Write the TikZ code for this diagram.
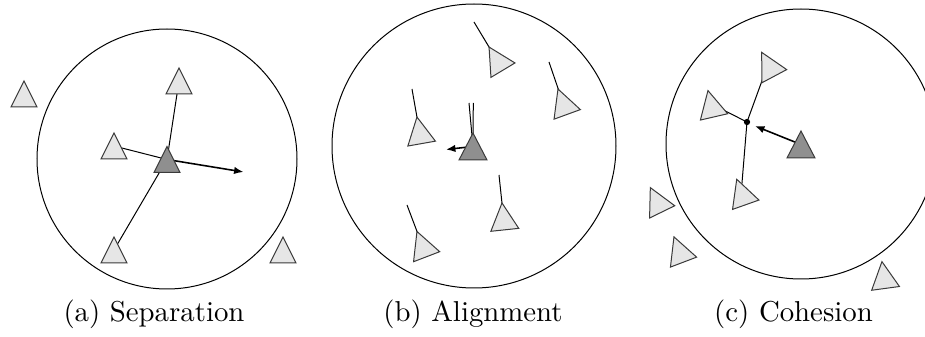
\documentclass[tikz,border=0pt]{standalone}
\usetikzlibrary{arrows.meta}
\definecolor{boidlight}{HTML}{E6E6E6}
\definecolor{boiddark}{HTML}{8F8F8F}
\definecolor{boidedge}{HTML}{3A3A3A}
\begin{document}
\begin{tikzpicture}[x=0.35pt,y=-0.35pt,
  ring/.style={draw=black, line width=0.35pt},
  link/.style={draw=black, line width=0.35pt},
  steer/.style={draw=black, line width=0.55pt, -{Latex[length=3.3pt,width=2.6pt]}},
  boidshape/.style={draw=boidedge, line width=0.35pt, line join=miter},
  caption/.style={anchor=base, inner sep=0pt, font=\fontsize{10.08pt}{12pt}\selectfont},
  pics/boid/.style={code={\path[boidshape,fill=#1] (0,-\boidh)--(-\boidw,\boidh)--(\boidw,\boidh)--cycle;}}
]
\clip (0,0) rectangle (925,337);

% ---------------- (a) Separation ----------------
\begin{scope}
\def\boidw{13}\def\boidh{13}
\node[ring, circle, minimum size=260*0.35pt, inner sep=0pt] (ringA) at (167,159) {};
\coordinate (aOutL) at (24,94);
\coordinate (aTop) at (179,81);
\coordinate (aMid) at (114,146);
\coordinate (aDark) at (167,159.5);
\coordinate (aBot) at (114,250);
\coordinate (aOutR) at (283,250);
\coordinate (aGoal) at (243.5,172);
\draw[link] (aTop) -- (aDark);
\draw[link] (aMid) -- (aDark);
\draw[link] (aBot) -- (aDark);
\draw[steer] (aDark) -- (aGoal);
\pic at (aOutL) {boid=boidlight};
\pic at (aTop) {boid=boidlight};
\pic at (aMid) {boid=boidlight};
\pic at (aBot) {boid=boidlight};
\pic at (aOutR) {boid=boidlight};
\pic at (aDark) {boid=boiddark};
\node[caption] (capA) at (154,322) {(a) Separation};
\end{scope}

% ---------------- (b) Alignment ----------------
\begin{scope}
\def\boidw{14}\def\boidh{13.5}
\node[ring, circle, minimum size=284*0.35pt, inner sep=0pt] (ringB) at (474,146) {};
\coordinate (b1) at (496,58.6);   \coordinate (b1t) at (474,22);
\coordinate (b2) at (562.6,101.7);\coordinate (b2t) at (549,62);
\coordinate (b3) at (419.3,130.3);\coordinate (b3t) at (412,89);
\coordinate (b4) at (503.4,216.4);\coordinate (b4t) at (499,175);
\coordinate (b5) at (421.8,244.1);\coordinate (b5t) at (407,205);
\coordinate (bD) at (473,146.5);
\coordinate (bDt1) at (473.3,103);
\coordinate (bDt2) at (469,103);
\coordinate (bGoal) at (446,149.5);
\draw[link] (b1) -- (b1t);
\draw[link] (b2) -- (b2t);
\draw[link] (b3) -- (b3t);
\draw[link] (b4) -- (b4t);
\draw[link] (b5) -- (b5t);
\draw[link] (bD) -- (bDt1);
\draw[link] (bD) -- (bDt2);
\draw[steer] (bD) -- (bGoal);
\pic[rotate=31] at (b1) {boid=boidlight};
\pic[rotate=20] at (b2) {boid=boidlight};
\pic[rotate=10] at (b3) {boid=boidlight};
\pic[rotate=6] at (b4) {boid=boidlight};
\pic[rotate=21] at (b5) {boid=boidlight};
\pic at (bD) {boid=boiddark};
\node[caption] (capB) at (473,322) {(b) Alignment};
\end{scope}

% ---------------- (c) Cohesion ----------------
\begin{scope}
\def\boidw{14}\def\boidh{13.5}
\node[ring, circle, minimum size=270*0.35pt, inner sep=0pt] (ringC) at (801,144) {};
\coordinate (c1) at (768,64.25);
\coordinate (c2) at (711,103.75);
\coordinate (c3) at (741.25,192);
\coordinate (cO1) at (656.25,199.75);
\coordinate (cO2) at (678.75,249.5);
\coordinate (cO3) at (883.75,275);
\coordinate (cD) at (801,144.5);
\coordinate (cGoal) at (755,126);
\node[circle, fill=black, inner sep=0pt, minimum size=2.2pt] (cDot) at (747,122) {};
\draw[link] (cDot.center) -- (c1);
\draw[link] (cDot.center) -- (c2);
\draw[link] (cDot.center) -- (c3);
\draw[steer] (cD) -- (cGoal);
\pic[rotate=28] at (c1) {boid=boidlight};
\pic[rotate=13] at (c2) {boid=boidlight};
\pic[rotate=19.5] at (c3) {boid=boidlight};
\pic[rotate=26] at (cO1) {boid=boidlight};
\pic[rotate=20.8] at (cO2) {boid=boidlight};
\pic[rotate=7.7] at (cO3) {boid=boidlight};
\pic at (cD) {boid=boiddark};
\node[caption] (capC) at (793.5,322) {(c) Cohesion};
\end{scope}
\end{tikzpicture}
\end{document}
